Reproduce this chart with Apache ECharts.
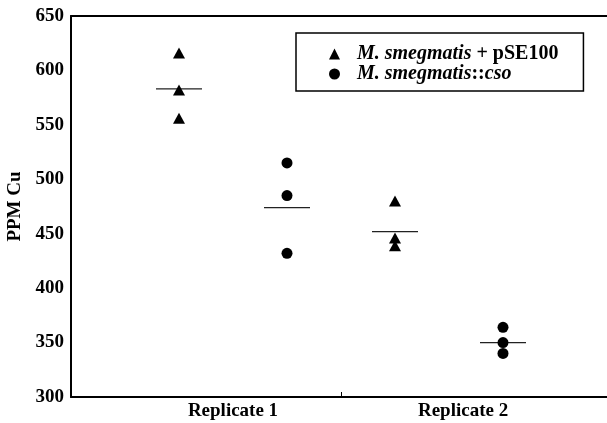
<!DOCTYPE html>
<html>
<head>
<meta charset="utf-8">
<script src="https://cdn.jsdelivr.net/npm/echarts@6/dist/echarts.min.js"></script>
<style>
  html, body { margin: 0; padding: 0; background: #fff; }
  #chart { width: 607px; height: 423px; }
</style>
</head>
<body>
<div id="chart"></div>
<script>
// replicate labels and where they sit on the x scale
const categories = ['Replicate 1', 'Replicate 2'];
const labelPos = [1.5, 3.63];
const dividerPos = [2.5];

// PPM Cu readings, one inner array per replicate
const pSE100 = [[616, 582, 556], [480, 446, 439]];
const cso = [[515, 485, 432], [364, 350, 340]];
const pSE100Mean = [583, 452];
const csoMean = [474, 350];

const FONT = 'Liberation Serif';

// each replicate gets two slots: pSE100 first, cso second
const pointsOf = (groups, offset) =>
  groups.flatMap((vals, i) => vals.map(v => [2 * i + offset, v]));
const meansOf = (means, offset) => means.map((m, i) => [2 * i + offset, m]);

const chart = echarts.init(document.getElementById('chart'));

chart.setOption({
  backgroundColor: '#fff',
  animation: false,
  grid: { left: 71, top: 16, bottom: 26, right: -4, outerBoundsMode: 'none' },
  legend: {
    data: ['pSE100', 'cso'],
    orient: 'vertical',
    left: 296, top: 33,
    padding: [11, 25, 7, 33],
    borderColor: '#000', borderWidth: 1.5,
    itemWidth: 11, itemHeight: 11, itemGap: 0,
    formatter: name => name === 'pSE100'
      ? '{i|M. smegmatis}{b| + pSE100}'
      : '{i|M. smegmatis}{b|::}{i|cso}',
    textStyle: {
      color: '#000', fontFamily: FONT, fontSize: 20, lineHeight: 19, padding: [0, 0, 0, 12],
      rich: {
        i: { fontFamily: FONT, fontSize: 20, fontWeight: 'bold', fontStyle: 'italic', color: '#000' },
        b: { fontFamily: FONT, fontSize: 20, fontWeight: 'bold', color: '#000' }
      }
    }
  },
  xAxis: [
    {
      type: 'value', min: 0, max: 5,
      splitLine: { show: false },
      axisLine: { lineStyle: { color: '#000', width: 2 } },
      axisTick: { show: true, inside: true, length: 5, customValues: dividerPos, lineStyle: { color: '#000' } },
      axisLabel: {
        customValues: labelPos,
        formatter: v => categories[labelPos.indexOf(v)] || '',
        color: '#000', fontFamily: FONT, fontWeight: 'bold', fontSize: 19, margin: 5
      }
    },
    {
      // top frame line only
      type: 'value', position: 'top', min: 0, max: 5,
      splitLine: { show: false },
      axisLine: { show: true, lineStyle: { color: '#000', width: 2 } },
      axisTick: { show: false },
      axisLabel: { show: false }
    }
  ],
  yAxis: {
    type: 'value', min: 300, max: 650, interval: 50,
    name: 'PPM Cu', nameLocation: 'middle', nameGap: 44,
    nameTextStyle: { color: '#000', fontFamily: FONT, fontWeight: 'bold', fontSize: 19 },
    splitLine: { show: false },
    axisLine: { show: true, lineStyle: { color: '#000', width: 2 } },
    axisTick: { show: false },
    axisLabel: { color: '#000', fontFamily: FONT, fontWeight: 'bold', fontSize: 19, margin: 7 }
  },
  series: [
    {
      name: 'pSE100', type: 'scatter', symbol: 'triangle', symbolSize: [12, 11],
      itemStyle: { color: '#000', opacity: 1 }, z: 3,
      data: pointsOf(pSE100, 1)
    },
    {
      name: 'cso', type: 'scatter', symbol: 'circle', symbolSize: 11,
      itemStyle: { color: '#000', opacity: 1 }, z: 3,
      data: pointsOf(cso, 2)
    },
    {
      name: 'mean', type: 'scatter', symbol: 'rect', symbolSize: [46, 1.2],
      itemStyle: { color: '#222', opacity: 1 }, silent: true, z: 2,
      data: meansOf(pSE100Mean, 1).concat(meansOf(csoMean, 2))
    }
  ]
});
</script>
</body>
</html>
